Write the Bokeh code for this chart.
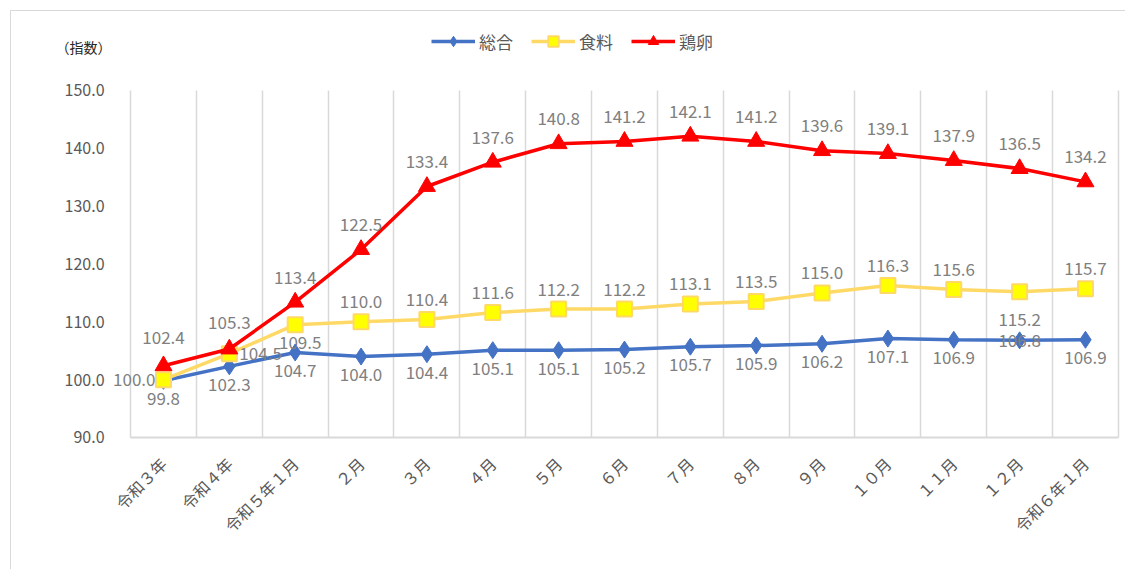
from bokeh.plotting import figure
from bokeh.models import (ColumnDataSource, FixedTicker, Legend, LegendItem, Label,
                          NumeralTickFormatter, Range1d)
from bokeh.core.properties import value
from bokeh.embed import file_html
from bokeh.resources import INLINE
import math

categories = ["令和３年", "令和４年", "令和５年１月", "２月", "３月", "４月", "５月", "６月",
              "７月", "８月", "９月", "１０月", "１１月", "１２月", "令和６年１月"]
sogo = [99.8, 102.3, 104.7, 104.0, 104.4, 105.1, 105.1, 105.2, 105.7, 105.9, 106.2, 107.1, 106.9, 106.8, 106.9]
shokuryo = [100.0, 104.5, 109.5, 110.0, 110.4, 111.6, 112.2, 112.2, 113.1, 113.5, 115.0, 116.3, 115.6, 115.2, 115.7]
keiran = [102.4, 105.3, 113.4, 122.5, 133.4, 137.6, 140.8, 141.2, 142.1, 141.2, 139.6, 139.1, 137.9, 136.5, 134.2]
series_names = ["総合", "食料", "鶏卵"]
y_ticks = [90, 100, 110, 120, 130, 140, 150]
y_unit = "（指数）"

FONT = "Noto Sans CJK JP"
GRAY = "#808080"
BLUE = "#4472C4"
YEL_LINE = "#FFD966"
YEL_FILL = "#FFFF00"
RED = "#FF0000"

n = len(categories)
xs = list(range(n))
y_lo, y_hi = y_ticks[0], y_ticks[-1]

# frame fills the whole figure; the ranges extend past the data area so that
# legend / unit label / outside labels are drawn inside the frame
p = figure(width=1115, height=559, output_backend="svg", toolbar_location=None,
           x_range=Range1d(-2.308, 14.623), y_range=Range1d(67.0, 163.66),
           min_border=0, min_border_left=0, min_border_right=0,
           min_border_top=0, min_border_bottom=0)
p.styles = {"margin-left": "10px", "margin-top": "10px",
            "border-left": "1px solid #d9d9d9", "border-top": "1px solid #d9d9d9"}
p.outline_line_color = None
p.background_fill_color = "white"
p.border_fill_color = "white"

# y axis, fixed at the left category boundary
p.yaxis.fixed_location = -0.5
p.yaxis.bounds = (y_lo, y_hi)
p.yaxis.ticker = FixedTicker(ticks=y_ticks)
p.yaxis.formatter = NumeralTickFormatter(format="0.0")
p.yaxis.axis_line_color = None
p.yaxis.major_tick_line_color = None
p.yaxis.minor_tick_line_color = None
p.yaxis.major_label_text_font = FONT
p.yaxis.major_label_text_font_size = "16px"
p.yaxis.major_label_text_color = "#595959"
p.yaxis.major_label_standoff = 20

# x axis, fixed at y = 90
p.xaxis.fixed_location = y_lo
p.xaxis.bounds = (-0.5, n - 0.5)
p.xaxis.ticker = FixedTicker(ticks=xs)
p.xaxis.major_label_overrides = {i: c for i, c in enumerate(categories)}
p.xaxis.major_label_orientation = math.pi / 4
p.xaxis.axis_line_color = "#d9d9d9"
p.xaxis.axis_line_width = 2
p.xaxis.major_tick_line_color = None
p.xaxis.minor_tick_line_color = None
p.xaxis.major_label_text_font = FONT
p.xaxis.major_label_text_font_size = "16px"
p.xaxis.major_label_text_color = "#595959"
p.xaxis.major_label_standoff = 17

p.ygrid.grid_line_color = None
p.xgrid.ticker = FixedTicker(ticks=[i - 0.5 for i in range(n + 1)])
p.xgrid.cross_bounds = (y_lo, y_hi)
p.xgrid.grid_line_color = "#d9d9d9"
p.xgrid.grid_line_width = 1.5

# label offsets (styling only)
s_yoff = [18] * n
s_yoff[13] = 0
f_xoff = [0] * n
f_yoff = [-20] * n
f_align = ["center"] * n
f_xoff[0], f_yoff[0], f_align[0] = -8, 0, "right"
f_xoff[1], f_yoff[1], f_align[1] = 10, 0, "left"
f_xoff[2], f_yoff[2] = 5, 18
f_yoff[13] = 28
k_yoff = [-25] * n
k_yoff[0] = -28
k_yoff[1] = -27

src = ColumnDataSource(dict(x=xs, sogo=sogo, shokuryo=shokuryo, keiran=keiran,
                            sogo_t=[f"{v:.1f}" for v in sogo],
                            shokuryo_t=[f"{v:.1f}" for v in shokuryo],
                            keiran_t=[f"{v:.1f}" for v in keiran],
                            s_yoff=s_yoff, f_xoff=f_xoff, f_yoff=f_yoff, f_align=f_align,
                            k_yoff=k_yoff))

l1 = p.line("x", "sogo", source=src, line_color=BLUE, line_width=3.5)
m1 = p.scatter("x", "sogo", source=src, marker="diamond", size=17, fill_color=BLUE, line_color=BLUE)
l2 = p.line("x", "shokuryo", source=src, line_color=YEL_LINE, line_width=3.5)
m2 = p.scatter("x", "shokuryo", source=src, marker="square", size=15, fill_color=YEL_FILL,
               line_color=YEL_LINE, line_width=2)
l3 = p.line("x", "keiran", source=src, line_color=RED, line_width=3.5)
m3 = p.scatter("x", "keiran", source=src, marker="triangle", size=17, fill_color=RED, line_color=RED)

LBL = "17px"
p.text("x", "sogo", text="sogo_t", source=src, y_offset="s_yoff",
       text_align="center", text_baseline="middle", text_font=value(FONT),
       text_font_size=LBL, text_color=GRAY)
p.text("x", "shokuryo", text="shokuryo_t", source=src, x_offset="f_xoff", y_offset="f_yoff",
       text_align="f_align", text_baseline="middle", text_font=value(FONT),
       text_font_size=LBL, text_color=GRAY)
p.text("x", "keiran", text="keiran_t", source=src, y_offset="k_yoff",
       text_align="center", text_baseline="middle", text_font=value(FONT),
       text_font_size=LBL, text_color=GRAY)

legend = Legend(items=[LegendItem(label=series_names[0], renderers=[l1, m1]),
                       LegendItem(label=series_names[1], renderers=[l2, m2]),
                       LegendItem(label=series_names[2], renderers=[l3, m3])],
                orientation="horizontal", location=(420, 516), margin=0, padding=0,
                label_text_font=FONT, label_text_font_size="17px", label_text_color="#595959",
                border_line_color=None, background_fill_alpha=0, glyph_width=44,
                glyph_height=26, spacing=18, label_standoff=4)
p.add_layout(legend, "center")

p.add_layout(Label(x=-1.64, y=157.44, text=y_unit, text_font=FONT, text_font_size="14px",
                   text_color="#262626", text_align="left", text_baseline="middle"))

open("out.html", "w").write(file_html(p, INLINE))
